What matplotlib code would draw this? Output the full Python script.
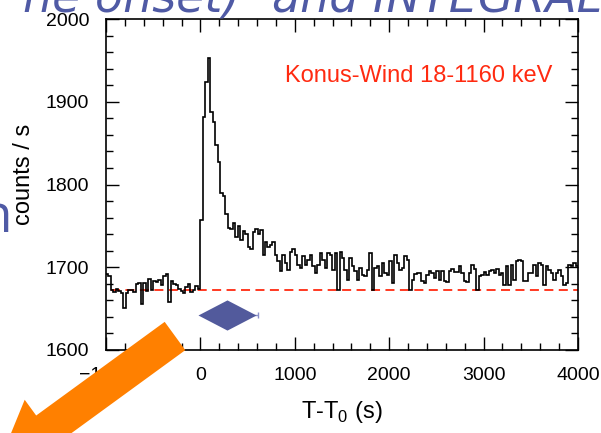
import matplotlib.pyplot as plt
import matplotlib.patches as mpatches
import numpy as np

plt.rcParams['font.family'] = ['Liberation Sans', 'DejaVu Sans']

# Konus-Wind light curve, counts per time bin from -1000 s to 4000 s
counts_pre = [1692, 1689, 1673, 1670, 1674, 1671, 1669, 1651, 1669, 1672,
              1673, 1670, 1680, 1681, 1655, 1681, 1671, 1686, 1673, 1683,
              1682, 1685, 1679, 1690, 1692, 1658, 1683, 1680, 1678, 1674,
              1671, 1669, 1676, 1680, 1670, 1673, 1677, 1674]
counts_peak = [1757, 1881, 1924, 1953, 1888, 1876, 1848, 1827, 1790, 1786, 1764, 1748,
               1746, 1754, 1737, 1750, 1733, 1744, 1740, 1725, 1722, 1742, 1746, 1740]
counts_tail = [1745, 1715, 1731, 1724, 1727, 1731, 1715, 1707, 1695, 1715,
               1705, 1697, 1719, 1722, 1715, 1703, 1699, 1713, 1703, 1709,
               1715, 1701, 1693, 1703, 1717, 1709, 1699, 1717, 1715, 1697,
               1717, 1673, 1719, 1711, 1697, 1685, 1711, 1701, 1695, 1685,
               1699, 1691, 1689, 1697, 1717, 1673, 1699, 1701, 1689, 1705,
               1693, 1691, 1707, 1681, 1715, 1705, 1697, 1699, 1713, 1709,
               1673, 1685, 1692, 1693]
counts_late = [1693, 1683, 1681, 1691, 1696, 1693, 1687, 1695, 1685, 1695,
               1683, 1682, 1695, 1698, 1694, 1694, 1701, 1693, 1683, 1682,
               1693, 1703, 1698, 1673, 1689, 1691, 1694, 1691, 1695, 1697,
               1693, 1698, 1691, 1693, 1679, 1702, 1679, 1703, 1685, 1707,
               1709, 1707, 1683, 1683, 1693, 1693, 1703, 1689, 1705, 1703,
               1679, 1701, 1697, 1693, 1685, 1693, 1697, 1689, 1679, 1681,
               1703, 1702, 1705, 1701]
counts = counts_pre + counts_peak + counts_tail + counts_late
t_range = [-1000, 4000]

background_level = 1673
background_start = -950

# blue diamond (emission interval)
diamond_t = [284]
diamond_y = [1642]
diamond_terr = [[200], [321]]

xticks = [-1000, 0, 1000, 2000, 3000, 4000]
yticks = [1600, 1700, 1800, 1900, 2000]

label_text = 'Konus-Wind 18-1160 keV'
slide_top = ['ne onset)', 'and INTEGRAL']
slide_left = 'in'

slide_blue = '#4f5aa5'

fig = plt.figure(figsize=(6.01, 4.33), dpi=100)
W, H = 601.0, 433.0
ax = fig.add_axes([106 / W, 1 - 350 / H, 472 / W, 331 / H])

edges = np.linspace(t_range[0], t_range[1], len(counts) + 1)
ax.stairs(counts, edges, baseline=None, color='black', lw=1.2, zorder=3)

ax.hlines(background_level, background_start, t_range[1], colors='#ff2a10',
          linestyles=(0, (5, 3)), lw=1.3, zorder=2)

ax.errorbar(diamond_t, diamond_y, xerr=diamond_terr, fmt='none',
            ecolor='#8a90c8', elinewidth=1.0, capsize=2.2, zorder=4)
diamond = [(-1, 0), (0, 0.52), (1, 0), (0, -0.52), (-1, 0)]
ax.plot(diamond_t, diamond_y, ls='none', marker=diamond, ms=41.8,
        color='#525a9c', mec='none', zorder=5)

ax.set_xlim(t_range)
ax.set_ylim(1600, 2000)
ax.set_xticks(xticks)
ax.set_yticks(yticks)
ax.set_xticks(np.arange(-1000, 4001, 200), minor=True)
ax.set_yticks(np.arange(1600, 2001, 20), minor=True)
ax.tick_params(which='both', direction='in', top=True, right=True, width=1.0,
               labelsize=14, pad=12)
ax.tick_params(which='major', length=9.4)
ax.tick_params(which='minor', length=5)
for s in ax.spines.values():
    s.set_linewidth(1.2)

ax.text(0.945, 0.81, label_text, transform=ax.transAxes, ha='right',
        va='baseline', color='#ff2a10', fontsize=17)

fig.text(24 / W, 1 - 174 / H, 'counts / s', rotation=90, ha='center',
         va='center', fontsize=17)
fig.text(342 / W, 1 - 418 / H, r'T-T$_\mathregular{0}$ (s)', ha='center',
         va='baseline', fontsize=17)

# bits of the slide around the figure
fig.text(240 / W, 1 - 11 / H, slide_top[0], ha='right', va='baseline',
         fontsize=33, family='DejaVu Sans', style='oblique', color=slide_blue)
fig.text(272 / W, 1 - 11 / H, slide_top[1], ha='left', va='baseline',
         fontsize=33, family='DejaVu Sans', style='oblique', color=slide_blue)
fig.text(13 / W, 1 - 232 / H, slide_left, ha='right', va='baseline',
         fontsize=38, family='Open Sans', color=slide_blue)

arrow = mpatches.FancyArrow(1.75, 0.97, -1.77, -1.29, width=0.35,
                            head_width=0.74, head_length=0.6,
                            length_includes_head=True, color='#ff8000',
                            lw=0, transform=fig.dpi_scale_trans, zorder=10)
fig.add_artist(arrow)

fig.savefig('out.png', dpi=100)
